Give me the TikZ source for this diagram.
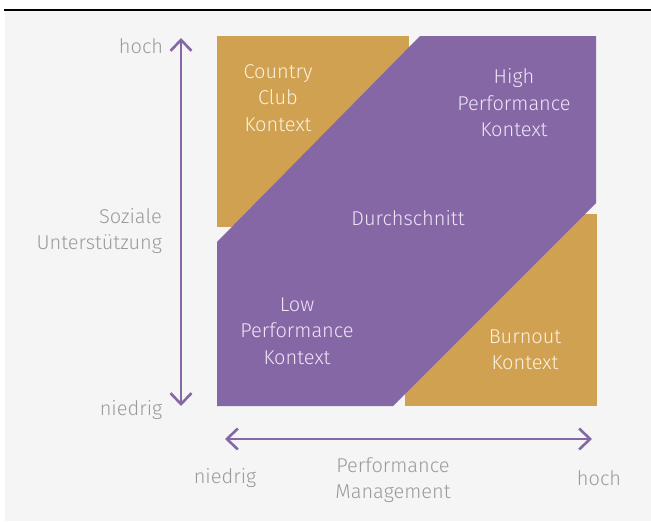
\documentclass[tikz,border=0pt]{standalone}
\usepackage{fontspec}
\setmainfont{Fira Sans}[UprightFont={* Light}]
\usetikzlibrary{arrows.meta}
\definecolor{Gold}{HTML}{D0A151}
\definecolor{Purple}{HTML}{8667A5}
\definecolor{Paper}{HTML}{F5F5F5}
\definecolor{Label}{HTML}{9B9B9B}
\definecolor{OnGold}{HTML}{FCF1DE}
\definecolor{OnPurple}{HTML}{EEE4F6}

\begin{document}
\begin{tikzpicture}[x=1pt,y=-1pt,font=\fontsize{20}{26.5}\selectfont,
    axis/.style={Purple,line width=2.6pt,{Straight Barb[length=11pt,width=21pt]}-{Straight Barb[length=11pt,width=21pt]}},
    axislabel/.style={text=Label,inner sep=0pt},
    fieldlabel/.style={align=center,inner sep=0pt}]
    \useasboundingbox (0,0) rectangle (651,522);
    % page background and rule
    \fill[white] (0,0) rectangle (651,522);
    \fill[Paper] (5,11) rectangle (651,521);
    \draw[line width=1.6pt] (4,10) -- (651,10);
    % quadrants
    \fill[Gold] (217,36) rectangle (409,227);
    \fill[Gold] (405,214) rectangle (597,406);
    \fill[Purple] (217,242) -- (420,36) -- (596,36) -- (596,203) -- (393,406) -- (217,406) -- cycle;
    \node[fieldlabel,text=OnGold] (country) at (278,98) {Country\\Club\\Kontext};
    \node[fieldlabel,text=OnPurple] (high) at (514,103) {High\\Performance\\Kontext};
    \node[fieldlabel,text=OnPurple] (mid) at (408,218) {Durchschnitt};
    \node[fieldlabel,text=OnPurple] (low) at (297,331) {Low\\Performance\\Kontext};
    \node[fieldlabel,text=OnGold] (burnout) at (525,350) {Burnout\\Kontext};
    % axes
    \coordinate (ytop) at (181,38);
    \coordinate (ybot) at (181,406);
    \coordinate (xleft) at (225,439);
    \coordinate (xright) at (592,439);
    \draw[axis] (ybot) -- (ytop);
    \draw[axis] (xleft) -- (xright);
    \node[axislabel] (yhigh) at (141,46) {hoch};
    \node[axislabel] (ylow) at (131,410) {niedrig};
    \node[axislabel,align=right,anchor=east] (ytitle) at (162,231) {Soziale\\Unterstützung};
    \node[axislabel] (xlow) at (225,478) {niedrig};
    \node[axislabel] (xhigh) at (599,478) {hoch};
    \node[axislabel,align=center] (xtitle) at (393,480) {Performance\\Management};
\end{tikzpicture}
\end{document}
